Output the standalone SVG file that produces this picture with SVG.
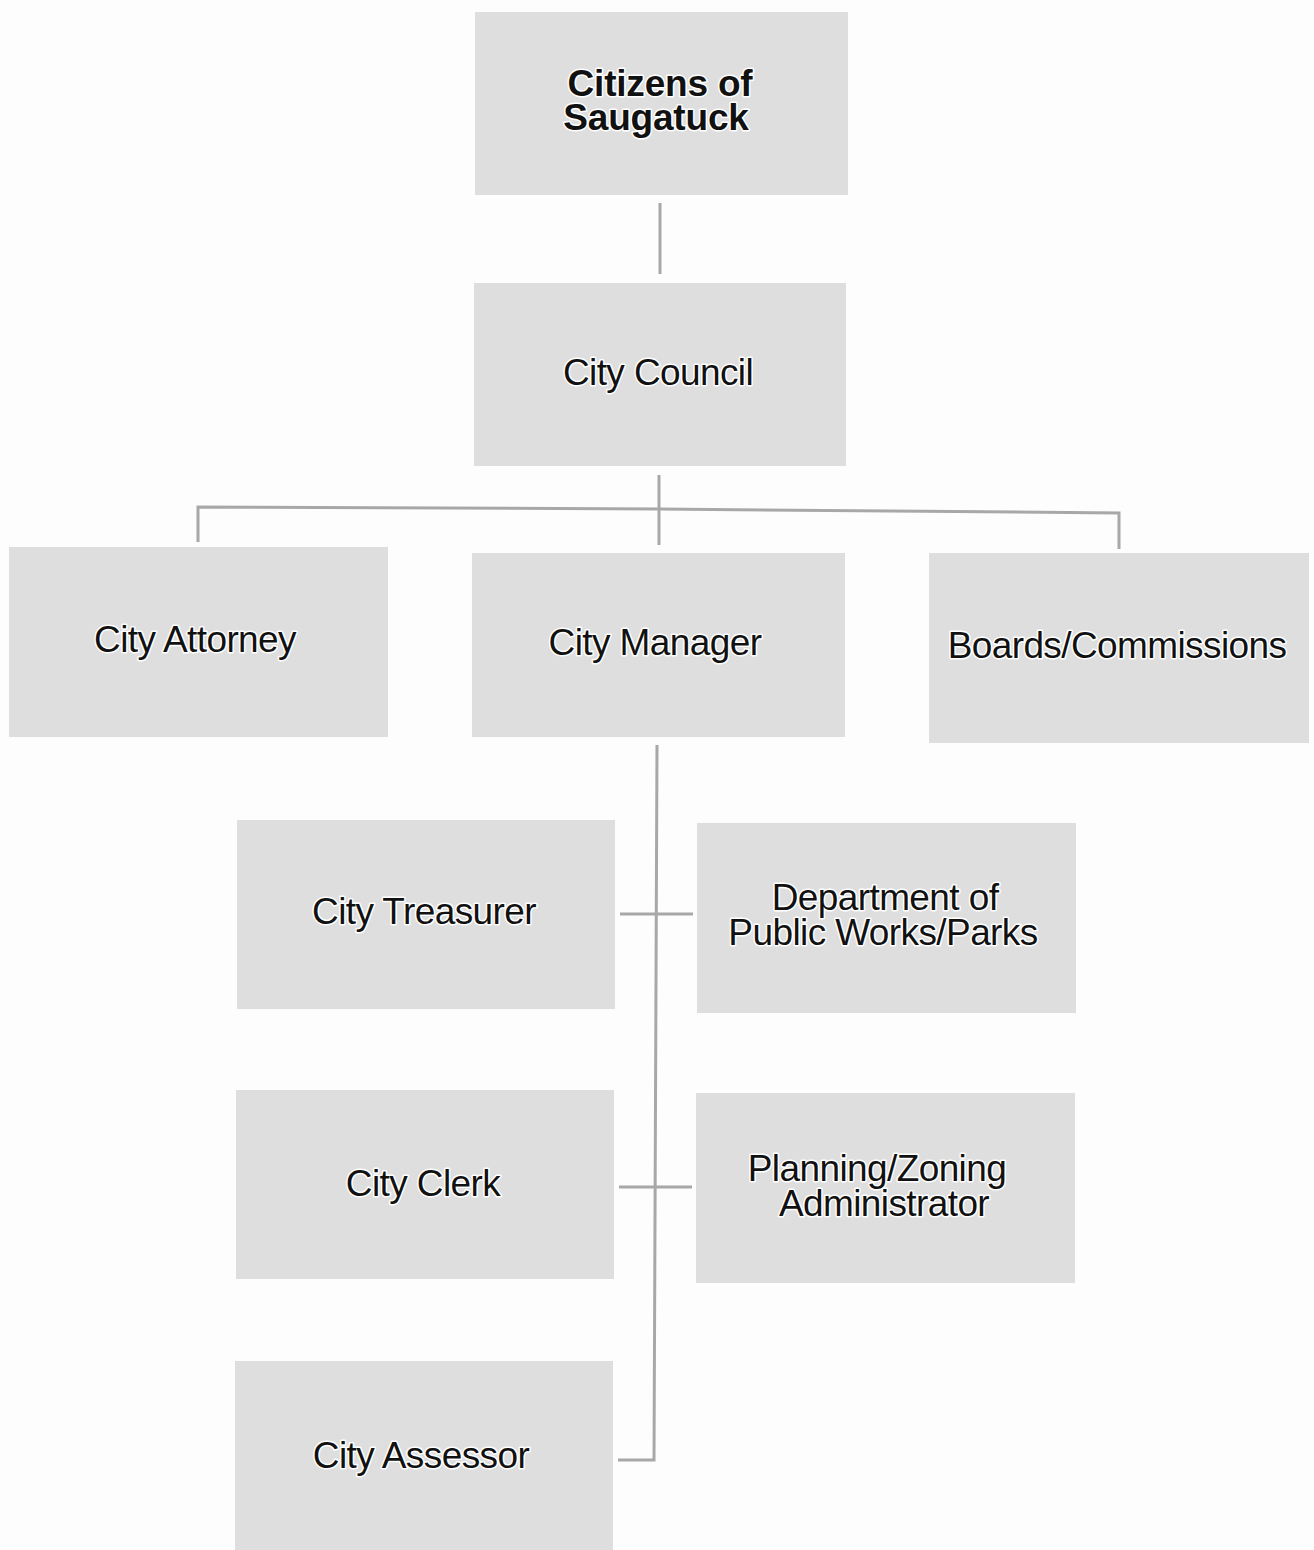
<svg xmlns="http://www.w3.org/2000/svg" width="1314" height="1550" viewBox="0 0 1314 1550">
<style>
.box{fill:#dedede;}
.t{font-family:"Liberation Sans",Arial,sans-serif;font-size:37px;fill:#111;text-anchor:middle;letter-spacing:-0.6px;stroke:#fff;stroke-width:3px;paint-order:stroke;stroke-linejoin:round;}
.b{font-weight:bold;letter-spacing:-0.2px;}
.c{fill:none;stroke:#a8a8a8;stroke-width:3;}
</style>
<rect width="1314" height="1550" fill="#fdfdfd"/>
<g id="connectors">
<path class="c" d="M660 203V274"/>
<path class="c" d="M659 475V545"/>
<path class="c" d="M198 542V507L659 509L1119 513V549"/>
<path class="c" d="M657 745L654 1460H618"/>
<path class="c" d="M620 914H693"/>
<path class="c" d="M619 1187H692"/>
</g>
<g id="citizens"><rect class="box" x="475" y="12" width="373" height="183"/><text class="t b" x="660" y="96">Citizens of</text><text class="t b" x="656" y="130">Saugatuck</text></g>
<g id="council"><rect class="box" x="474" y="283" width="372" height="183"/><text class="t" x="658" y="385">City Council</text></g>
<g id="attorney"><rect class="box" x="9" y="547" width="379" height="190"/><text class="t" x="195" y="652">City Attorney</text></g>
<g id="manager"><rect class="box" x="472" y="553" width="373" height="184"/><text class="t" x="655" y="655">City Manager</text></g>
<g id="boards"><rect class="box" x="929" y="553" width="380" height="190"/><text class="t" x="1117" y="658">Boards/Commissions</text></g>
<g id="treasurer"><rect class="box" x="237" y="820" width="378" height="189"/><text class="t" x="424" y="924">City Treasurer</text></g>
<g id="dpw"><rect class="box" x="697" y="823" width="379" height="190"/><text class="t" x="885" y="910">Department of</text><text class="t" x="883" y="945">Public Works/Parks</text></g>
<g id="clerk"><rect class="box" x="236" y="1090" width="378" height="189"/><text class="t" x="423" y="1196">City Clerk</text></g>
<g id="planning"><rect class="box" x="696" y="1093" width="379" height="190"/><text class="t" x="877" y="1181">Planning/Zoning</text><text class="t" x="884" y="1216">Administrator</text></g>
<g id="assessor"><rect class="box" x="235" y="1361" width="378" height="189"/><text class="t" x="421" y="1468">City Assessor</text></g>
</svg>
